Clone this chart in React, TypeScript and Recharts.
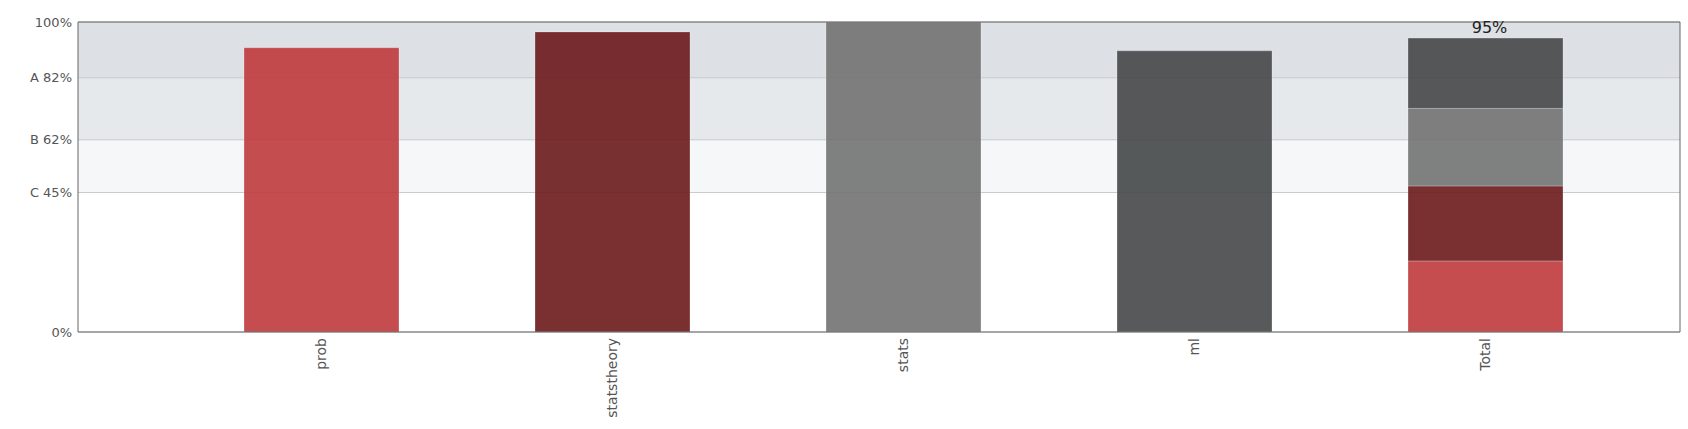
import { BarChart, Bar, XAxis, YAxis, CartesianGrid, LabelList } from 'recharts';

const SUBJECTS = ['prob', 'statstheory', 'stats', 'ml'];
const SCORES = [0.917, 0.968, 1.0, 0.907];
const WEIGHTS = [0.25, 0.25, 0.25, 0.25];
const TOTAL_LABEL = 'Total';

const Y_TICKS = [0, 45, 62, 82, 100];
const Y_TICK_LABELS = ['0%', 'C 45%', 'B 62%', 'A 82%', '100%'];

// grade band fills, top to bottom: A+ / A / B / below C
const BAND_FILLS = ['#dde0e5', '#e6e9ec', '#f6f7f9', '#ffffff'];

const COLORS: Record<string, string> = {
  prob: '#bf3a3c',
  statstheory: '#6b191b',
  stats: '#727272',
  ml: '#454748',
};

const FONT = '"DejaVu Sans", Verdana, sans-serif';

const rows: Record<string, string | number>[] = SUBJECTS.map((s, i) => ({ name: s, [s]: SCORES[i] * 100 }));
const totalRow: Record<string, string | number> = { name: TOTAL_LABEL };
SUBJECTS.forEach((s, i) => {
  totalRow[s] = SCORES[i] * WEIGHTS[i] * 100;
});
rows.push(totalRow);
const totalPct = SUBJECTS.reduce((acc, s) => acc + (totalRow[s] as number), 0);

const XTick = ({ x, y, payload }: any) => (
  <text
    x={x}
    y={y}
    transform={`rotate(-90, ${x}, ${y})`}
    textAnchor="end"
    dy="0.35em"
    fill="#555"
    fontSize={14}
    fontFamily={FONT}
  >
    {payload.value}
  </text>
);

export default function App() {
  return (
    <div style={{ position: 'absolute', left: 0, top: 0, background: '#fff' }}>
      <BarChart
        width={1688}
        height={429}
        data={rows}
        margin={{ top: 21, right: 7, left: 0, bottom: 0 }}
        barSize={155}
      >
        <CartesianGrid vertical={false} stroke="#c8cacc" horizontalFill={BAND_FILLS} fillOpacity={1} />
        <XAxis
          dataKey="name"
          height={97}
          padding={{ left: 98, right: 49 }}
          tickLine={false}
          tickSize={0}
          tickMargin={6}
          axisLine={{ stroke: '#666' }}
          tick={<XTick />}
          interval={0}
        />
        <XAxis
          xAxisId="top"
          dataKey="name"
          orientation="top"
          height={1}
          padding={{ left: 98, right: 49 }}
          tick={false}
          tickLine={false}
          axisLine={{ stroke: '#666' }}
        />
        <YAxis
          domain={[0, 100]}
          ticks={Y_TICKS}
          width={78}
          tickLine={false}
          tickSize={4}
          tickMargin={2}
          interval={0}
          axisLine={{ stroke: '#666' }}
          tick={{ fill: '#555', fontSize: 13, fontFamily: FONT }}
          tickFormatter={(v: number) => Y_TICK_LABELS[Y_TICKS.indexOf(v)]}
        />
        <YAxis
          yAxisId="right"
          orientation="right"
          domain={[0, 100]}
          width={1}
          tick={false}
          tickLine={false}
          axisLine={{ stroke: '#666' }}
        />
        {SUBJECTS.map((s, i) => (
          <Bar
            key={s}
            dataKey={s}
            stackId="a"
            fill={COLORS[s]}
            fillOpacity={0.9}
            stroke="#ffffff"
            strokeOpacity={0.25}
            isAnimationActive={false}
          >
            {i === SUBJECTS.length - 1 && (
              <LabelList
                dataKey="name"
                position="top"
                offset={5}
                content={(p: any) =>
                  p.value === TOTAL_LABEL ? (
                    <text
                      x={p.x + p.width / 2 + 4}
                      y={p.y - 5}
                      textAnchor="middle"
                      fill="#222"
                      fontSize={16}
                      fontFamily={FONT}
                    >
                      {Math.round(totalPct)}%
                    </text>
                  ) : null
                }
              />
            )}
          </Bar>
        ))}
      </BarChart>
    </div>
  );
}
